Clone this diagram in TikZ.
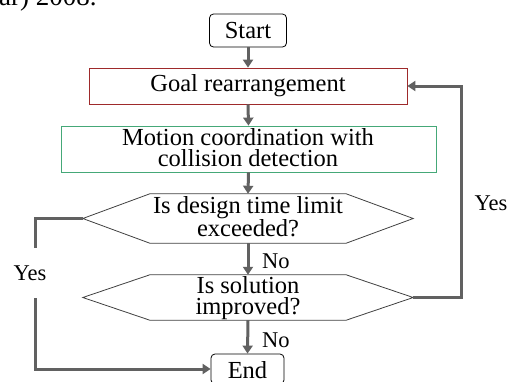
\documentclass[tikz,border=0pt]{standalone}
\usepackage{fontspec}
\setmainfont{Liberation Serif}
\usetikzlibrary{arrows.meta}
\definecolor{linegray}{HTML}{616161}
\definecolor{goalred}{HTML}{9E2A2B}
\definecolor{motgreen}{HTML}{45A878}
\definecolor{hexgray}{HTML}{404040}
\begin{document}
\begin{tikzpicture}[x=1pt,y=-1pt,
  boxtext/.style={font=\fontsize{24.5}{21}\selectfont, align=center, inner sep=0pt},
  lbltext/.style={font=\fontsize{22.5}{21}\selectfont, inner sep=0pt},
  termbox/.style={draw=black, line width=0.8pt, rounded corners=4pt, inner sep=0pt},
  flow/.style={draw=linegray, line width=3pt, -{Triangle[width=10pt,length=8pt]}},
  flowplain/.style={draw=linegray, line width=3pt},
  hexline/.style={draw=hexgray, line width=0.8pt}]
\useasboundingbox (0,0) rectangle (507,381);
% clipped page text
\node[anchor=base west, inner sep=0pt, font=\fontsize{27}{27}\selectfont] (pagetext) at (-1,5) {ar) 2008.};
% start
\node[termbox, minimum width=77pt, minimum height=33pt] (start) at (248,30.5) {};
\node[boxtext] (starttext) at (start.center) {Start};
% goal
\node[draw=goalred, line width=0.8pt, minimum width=318pt, minimum height=36pt, inner sep=0pt] (goal) at (248,86) {};
\node[boxtext] (goaltext) at (goal.center) {Goal rearrangement};
% motion
\node[draw=motgreen, line width=0.8pt, minimum width=375pt, minimum height=46pt, inner sep=0pt] (motion) at (248.5,149) {};
\node[boxtext] (motiontext) at (248,148) {Motion coordination with\\collision detection};
% decision 1
\node[minimum width=330pt, minimum height=49pt, inner sep=0pt] (d1) at (248,218.5) {};
\draw[hexline] (d1.west) -- ([xshift=67pt]d1.north west) -- ([xshift=-67pt]d1.north east) -- (d1.east) -- ([xshift=-67pt]d1.south east) -- ([xshift=67pt]d1.south west) -- cycle;
\node[boxtext] (d1text) at (248,217) {Is design time limit\\exceeded?};
% decision 2
\node[minimum width=330pt, minimum height=45pt, inner sep=0pt] (d2) at (248,297.5) {};
\draw[hexline] (d2.west) -- ([xshift=67pt]d2.north west) -- ([xshift=-67pt]d2.north east) -- (d2.east) -- ([xshift=-67pt]d2.south east) -- ([xshift=67pt]d2.south west) -- cycle;
\node[boxtext] (d2text) at (248,298) {Is solution\\improved?};
% end
\node[termbox, minimum width=73pt, minimum height=30pt] (end) at (247.5,369) {};
\node[boxtext] (endtext) at (247.5,370) {End};
% connectors
\draw[flow] (start.south) -- (goal.north);
\draw[flow] (goal.south) -- (motion.north);
\draw[flow] (motion.south) -- (d1.north);
\draw[flow] (d1.south) -- (d2.north);
\draw[flow] (d2.south) -- (end.north);
\coordinate (leftcorner) at (35,218.5);
\draw[flow] (d1.west) -- (leftcorner) |- (end.west);
\coordinate (rightcorner) at (461,297.5);
\draw[flow] (d2.east) -- (rightcorner) |- (goal.east);
% labels
\node[lbltext, fill=white, minimum height=50pt, minimum width=36pt] (yesleft) at (30,273) {Yes};
\node[lbltext] (yesright) at (491,203) {Yes};
\node[lbltext, anchor=west] (no1) at (262,261) {No};
\node[lbltext, anchor=west] (no2) at (262,340) {No};
\end{tikzpicture}
\end{document}
